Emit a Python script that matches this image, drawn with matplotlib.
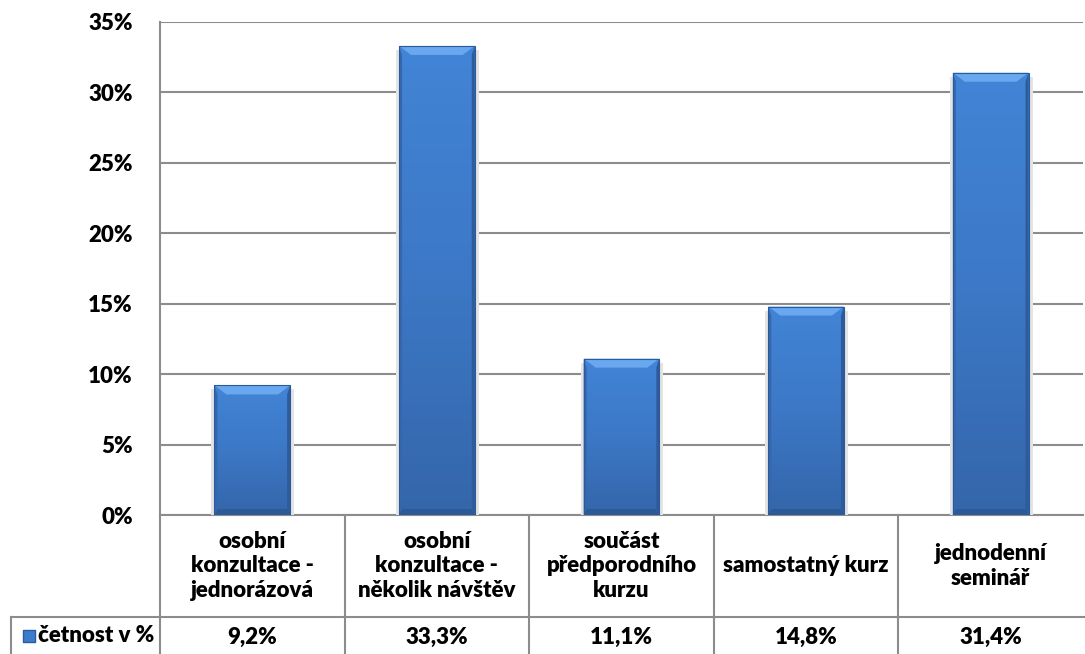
import matplotlib
matplotlib.use("Agg")
import matplotlib.pyplot as plt
from matplotlib.patches import Polygon
from matplotlib.colors import LinearSegmentedColormap
import numpy as np

plt.rcParams["font.family"] = ["Lato", "DejaVu Sans"]
FW = "heavy"

categories = [
    "osobní\nkonzultace -\njednorázová",
    "osobní\nkonzultace -\nněkolik návštěv",
    "součást\npředporodního\nkurzu",
    "samostatný kurz",
    "jednodenní\nseminář",
]
values = [9.2, 33.3, 11.1, 14.8, 31.4]
value_labels = ["9,2%", "33,3%", "11,1%", "14,8%", "31,4%"]
series_name = "četnost v %"
yticks = [0, 5, 10, 15, 20, 25, 30, 35]

C_GRID = "#8c8c8c"
C_TEXT = "#000000"
FS = 16

W_PX, H_PX = 1085, 654
fig = plt.figure(figsize=(W_PX / 100, H_PX / 100), dpi=100)
left, right, bottom, top = 160, 1083, 515, 22
ax = fig.add_axes([left / W_PX, 1 - bottom / H_PX,
                   (right - left) / W_PX, (bottom - top) / H_PX])

n = len(categories)
ax.set_xlim(-0.5, n - 0.5)
ax.set_ylim(0, 35)

# pixel -> data scale for bevel sizes
px_x = n / (right - left)
px_y = 35 / (bottom - top)

x = np.arange(n)
bw = 0.41
bars = ax.bar(x, values, width=bw, color="#3d7ccd", edgecolor="none",
              linewidth=0, zorder=3)

grad = LinearSegmentedColormap.from_list("bar", ["#3466aa", "#3c78c6", "#4284d6"])
for b in bars:
    x0, y0 = b.get_x(), b.get_y()
    w, h = b.get_width(), b.get_height()
    x1, y1 = x0 + w, y0 + h
    # soft shadow on both sides
    for sx, sw in ((x1, 4 * px_x), (x0 - 3 * px_x, 3 * px_x)):
        ax.add_patch(Polygon([(sx, y0), (sx + sw, y0), (sx + sw, y1 - 4 * px_y),
                              (sx, y1 - 4 * px_y)],
                             closed=True, facecolor="#e4e4e4", edgecolor="none",
                             zorder=2))
    im = ax.imshow(np.linspace(0, 1, 64).reshape(-1, 1), cmap=grad,
                   extent=(x0, x1, y0, y1), origin="lower",
                   aspect="auto", zorder=3.1)
    im.set_clip_path(b)
    # bevel facets: light top, dark bottom, narrow dark sides
    tx, ty = 12 * px_x, 9 * px_y
    sw = 3 * px_x
    by = 6 * px_y
    ax.add_patch(Polygon([(x0, y0), (x1, y0), (x1 - sw, y0 + by), (x0 + sw, y0 + by)],
                         closed=True, facecolor="#2c5a98", edgecolor="none", zorder=3.2))
    ax.add_patch(Polygon([(x0, y0), (x0, y1), (x0 + sw, y1 - ty), (x0 + sw, y0 + by)],
                         closed=True, facecolor="#3467ae", edgecolor="none", zorder=3.2))
    ax.add_patch(Polygon([(x1, y0), (x1, y1), (x1 - sw, y1 - ty), (x1 - sw, y0 + by)],
                         closed=True, facecolor="#2d5b9c", edgecolor="none", zorder=3.2))
    ax.add_patch(Polygon([(x0, y1), (x1, y1), (x1 - tx, y1 - ty), (x0 + tx, y1 - ty)],
                         closed=True, facecolor="#69a8ef", edgecolor="none", zorder=3.3))
    ax.add_patch(Polygon([(x0, y0), (x0, y1), (x1, y1), (x1, y0)], closed=True,
                         facecolor="none", edgecolor="#2b5a98", linewidth=0.8, zorder=3.4))

# axes styling
ax.set_yticks(yticks)
ax.set_yticklabels([f"{t}%" for t in yticks], fontsize=FS, fontweight=FW)
ax.tick_params(axis="y", length=0, pad=19.5)
ax.set_xticks([])
ax.grid(axis="y", color=C_GRID, linewidth=1.5, zorder=0)
for s in ["top", "right", "bottom"]:
    ax.spines[s].set_visible(False)
ax.spines["left"].set_color(C_GRID)
ax.spines["left"].set_linewidth(1.5)

# data table underneath
hpx = bottom - top
row1 = -102 / hpx
row2 = -150 / hpx
ax_x0 = -0.5
leg_x = ax_x0 - (left - 11) * px_x
lk = dict(color=C_GRID, linewidth=1.5, clip_on=False, zorder=1)
trans = ax.get_xaxis_transform()
ax.plot([ax_x0, n - 0.5], [0, 0], transform=trans, **lk)
ax.plot([leg_x, n - 0.5 + 5 * px_x], [row1, row1], transform=trans, **lk)
ax.plot([leg_x, leg_x], [row1, row2], transform=trans, **lk)
for xb in np.arange(n) - 0.5:
    ax.plot([xb, xb], [0, row2], transform=trans, **lk)

for xi, cat, lab in zip(x, categories, value_labels):
    ax.text(xi, row1 / 2, cat, transform=trans, ha="center", va="center",
            fontsize=FS, fontweight=FW, linespacing=1.2, color=C_TEXT)
    ax.text(xi, row1 - 20 / hpx, lab, transform=trans, ha="center",
            va="center", fontsize=FS, fontweight=FW, color=C_TEXT)

# legend key in the table
key_y = row1 - 19 / hpx
ax.scatter([leg_x + 18 * px_x], [key_y], transform=trans, marker="s", s=70,
           color="#3d7ccd", edgecolor="#2b5c9c", clip_on=False, zorder=4)
ax.text(leg_x + 27 * px_x, key_y, series_name, transform=trans, ha="left",
        va="center", fontsize=FS, fontweight=FW, color=C_TEXT)

fig.savefig("out.png", dpi=100)
